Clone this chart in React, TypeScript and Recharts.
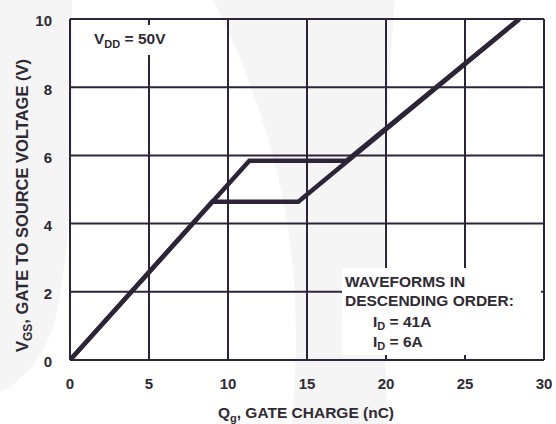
import React from "react";
import { LineChart, Line, XAxis, YAxis, CartesianGrid } from "recharts";

// gate charge curves
const chargeId41 = [0, 11.35, 17.5, 28.44];
const vgsId41 = [0, 5.84, 5.84, 10];
const chargeId6 = [0, 9.0, 14.45, 28.44];
const vgsId6 = [0, 4.64, 4.64, 10];

const xTicks = [0, 5, 10, 15, 20, 25, 30];
const yTicks = [0, 2, 4, 6, 8, 10];

const INK = "#2e2437";
const TEXT = "#2f2a33";
const WATERMARK = "#f5f5f6";
const FONT = '"Liberation Sans", Arial, Helvetica, sans-serif';

const toPoints = (q: number[], v: number[]) => q.map((x, i) => ({ q: x, v: v[i] }));
const id41 = toPoints(chargeId41, vgsId41);
const id6 = toPoints(chargeId6, vgsId6);

const XTick = (p: any) => (
  <text x={p.x} y={p.y + 28.7} textAnchor="middle" fill={TEXT} fontSize={15} fontWeight="bold" fontFamily={FONT}>
    {p.payload.value}
  </text>
);

const YTick = (p: any) => (
  <text x={p.x - 18} y={p.y + 7.3} textAnchor="end" fill={TEXT} fontSize={15} fontWeight="bold" fontFamily={FONT}>
    {p.payload.value}
  </text>
);

export default function App() {
  return (
    <div style={{ position: "absolute", left: 0, top: 0, width: 556, height: 424, background: "#fff" }}>
      {/* faint logo watermark behind the plot */}
      <svg width={556} height={424} style={{ position: "absolute", left: 0, top: 0 }}>
        <path d="M0,0 L72,0 C74,120 72,250 55,320 C45,355 25,380 0,392 Z" fill={WATERMARK} />
        <path d="M213,0 L395,0 C385,120 380,260 388,424 L292,424 C302,300 298,170 213,0 Z" fill={WATERMARK} />
      </svg>

      <div style={{ position: "absolute", left: 0, top: 0 }}>
        <LineChart width={556} height={424} margin={{ top: 19, right: 12, bottom: 34, left: 10 }}>
          <CartesianGrid stroke={INK} strokeWidth={2} />
          <XAxis
            dataKey="q"
            type="number"
            domain={[0, 30]}
            ticks={xTicks}
            height={30}
            axisLine={{ stroke: INK, strokeWidth: 2 }}
            tickLine={false}
            tickSize={0}
            tickMargin={0}
            tick={<XTick />}
            allowDataOverflow
          />
          <YAxis
            dataKey="v"
            type="number"
            domain={[0, 10]}
            ticks={yTicks}
            width={60}
            axisLine={{ stroke: INK, strokeWidth: 2 }}
            tickLine={false}
            tickSize={0}
            tickMargin={0}
            tick={<YTick />}
            allowDataOverflow
          />
          <Line data={id6} dataKey="v" type="linear" stroke={INK} strokeWidth={4.5} dot={false} isAnimationActive={false} />
          <Line data={id41} dataKey="v" type="linear" stroke={INK} strokeWidth={4.5} dot={false} isAnimationActive={false} />
        </LineChart>
      </div>

      <svg width={556} height={424} style={{ position: "absolute", left: 0, top: 0, pointerEvents: "none" }} fontFamily={FONT} fontWeight="bold" fill={TEXT}>
        <rect x={78} y={25} width={107} height={30} fill="#fff" />
        <text x={94} y={44} fontSize={15.5}>
          V<tspan fontSize={11} dy={3.5}>DD</tspan>
          <tspan dy={-3.5}> = 50V</tspan>
        </text>

        <rect x={342} y={268} width={199} height={87} fill="#fff" />
        <text x={345} y={287} fontSize={15.5}>WAVEFORMS IN</text>
        <text x={345} y={305.5} fontSize={15.5}>DESCENDING ORDER:</text>
        <text x={373} y={326.5} fontSize={15.5}>
          I<tspan fontSize={11} dy={3.5}>D</tspan>
          <tspan dy={-3.5}> = 41A</tspan>
        </text>
        <text x={373} y={346.5} fontSize={15.5}>
          I<tspan fontSize={11} dy={3.5}>D</tspan>
          <tspan dy={-3.5}> = 6A</tspan>
        </text>

        <text x={306} y={418} fontSize={15.5} textAnchor="middle">
          Q<tspan fontSize={11} dy={3.5}>g</tspan>
          <tspan dy={-3.5}>, GATE CHARGE (nC)</tspan>
        </text>
        <text x={28} y={205.5} fontSize={16.5} textAnchor="middle" transform="rotate(-90 28 205.5)">
          V<tspan fontSize={12} dy={3.5}>GS</tspan>
          <tspan dy={-3.5}>, GATE TO SOURCE VOLTAGE (V)</tspan>
        </text>
      </svg>
    </div>
  );
}
